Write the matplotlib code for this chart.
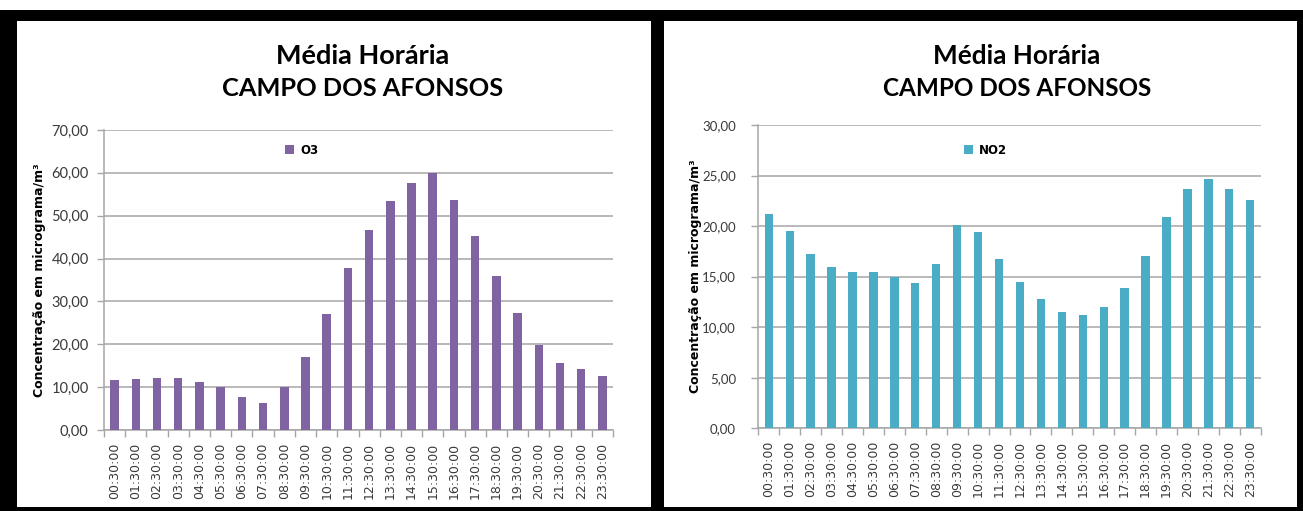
import matplotlib
matplotlib.use("Agg")
import matplotlib.pyplot as plt
from matplotlib.patches import Rectangle, Patch
import numpy as np

hours = [f"{h:02d}:30:00" for h in range(24)]
o3 = [11.6, 11.9, 12.2, 12.2, 11.3, 10.1, 7.7, 6.2, 10.0, 17.0, 27.1, 37.9,
      46.6, 53.4, 57.6, 59.9, 53.7, 45.3, 36.0, 27.4, 19.9, 15.6, 14.2, 12.7]
no2 = [21.2, 19.55, 17.25, 15.95, 15.45, 15.45, 15.0, 14.35, 16.3, 20.1, 19.4, 16.75,
       14.45, 12.8, 11.5, 11.2, 11.95, 13.85, 17.0, 20.9, 23.65, 24.7, 23.65, 22.6]
o3_ticks = [0, 10, 20, 30, 40, 50, 60, 70]
no2_ticks = [0, 5, 10, 15, 20, 25, 30]
title1 = "Média Horária"
title2 = "CAMPO DOS AFONSOS"
ylabel = "Concentração em micrograma/m³"

W, H = 1303, 511
fig = plt.figure(figsize=(W / 100, H / 100), dpi=100)
fig.patch.set_facecolor("white")

def fx(px):
    return px / W

def fy(py):
    return 1 - py / H

# black frame and white panels
fig.patches.append(Rectangle((0, 0), 1, fy(10), transform=fig.transFigure,
                             facecolor="black", edgecolor="none", zorder=-10))
for x0, x1 in [(17, 651), (664, 1297)]:
    fig.patches.append(Rectangle((fx(x0), fy(507)), fx(x1 - x0), (507 - 21) / H,
                                 transform=fig.transFigure, facecolor="white",
                                 edgecolor="none", zorder=-9))

grid_c = "#a6a6a6"
lab_c = "#3a3a3a"

def make_panel(rect, vals, color, ticks, ymax, name, leg_x, title_cx, tsizes,
               ysize, ypad, ylab_x):
    ax = fig.add_axes(rect)
    ax.set_facecolor("none")
    x = np.arange(len(vals))
    ax.bar(x, vals, width=0.4, color=color, zorder=3)
    ax.set_xlim(-0.5, len(vals) - 0.5)
    ax.set_ylim(0, ymax)
    ax.set_yticks(ticks)
    ax.set_yticklabels([f"{t:.2f}".replace(".", ",") for t in ticks],
                       fontname="Lato", fontsize=ysize, color=lab_c)
    ax.set_xticks(x)
    ax.set_xticklabels(hours, rotation=90, fontsize=9, color=lab_c, family="DejaVu Sans")
    ax.set_xticks(np.arange(-0.5, len(vals)), minor=True)
    ax.tick_params(axis="x", which="major", length=0, pad=9)
    ax.tick_params(axis="x", which="minor", length=5, color=grid_c, width=1)
    ax.tick_params(axis="y", length=5, color=grid_c, width=1, pad=ypad)
    ax.grid(axis="y", color=grid_c, linewidth=1.1, zorder=0)
    ax.set_axisbelow(True)
    for s in ["top", "right"]:
        ax.spines[s].set_visible(False)
    for s in ["left", "bottom"]:
        ax.spines[s].set_color(grid_c)
        ax.spines[s].set_linewidth(1.1)
    fig.text(ylab_x, rect[1] + rect[3] / 2, ylabel, rotation=90, ha="center", va="center",
             fontsize=9, fontweight="bold", color="black", family="DejaVu Sans")
    fig.text(fx(title_cx), fy(56), title1, ha="center", va="center", fontsize=tsizes[0],
             fontweight="bold", family="Lato", color="black")
    fig.text(fx(title_cx), fy(88), title2, ha="center", va="center", fontsize=tsizes[1],
             fontweight="bold", family="Lato", color="black")
    ax.legend(handles=[Patch(facecolor=color, label=name)], loc="center left",
              bbox_to_anchor=(fx(leg_x), fy(150.5)), bbox_transform=fig.transFigure,
              frameon=False, borderpad=0, handlelength=0.8, handleheight=0.8,
              handletextpad=0.5, prop={"family": "DejaVu Sans", "weight": "bold", "size": 8.5})
    return ax

make_panel([fx(104), fy(430), fx(613 - 104), (430 - 130) / H], o3, "#8064a2",
           o3_ticks, 70, "O3", 279, 363, (19.5, 18.3), 10.5, 6, fx(40))
make_panel([fx(758.3), fy(428.3), fx(1260.7 - 758.3), (428.3 - 125) / H], no2, "#4bacc6",
           no2_ticks, 30, "NO2", 958, 1017, (18.8, 17.5), 9.5, 11, fx(695))

fig.savefig("out.png", dpi=100, facecolor=fig.get_facecolor())
